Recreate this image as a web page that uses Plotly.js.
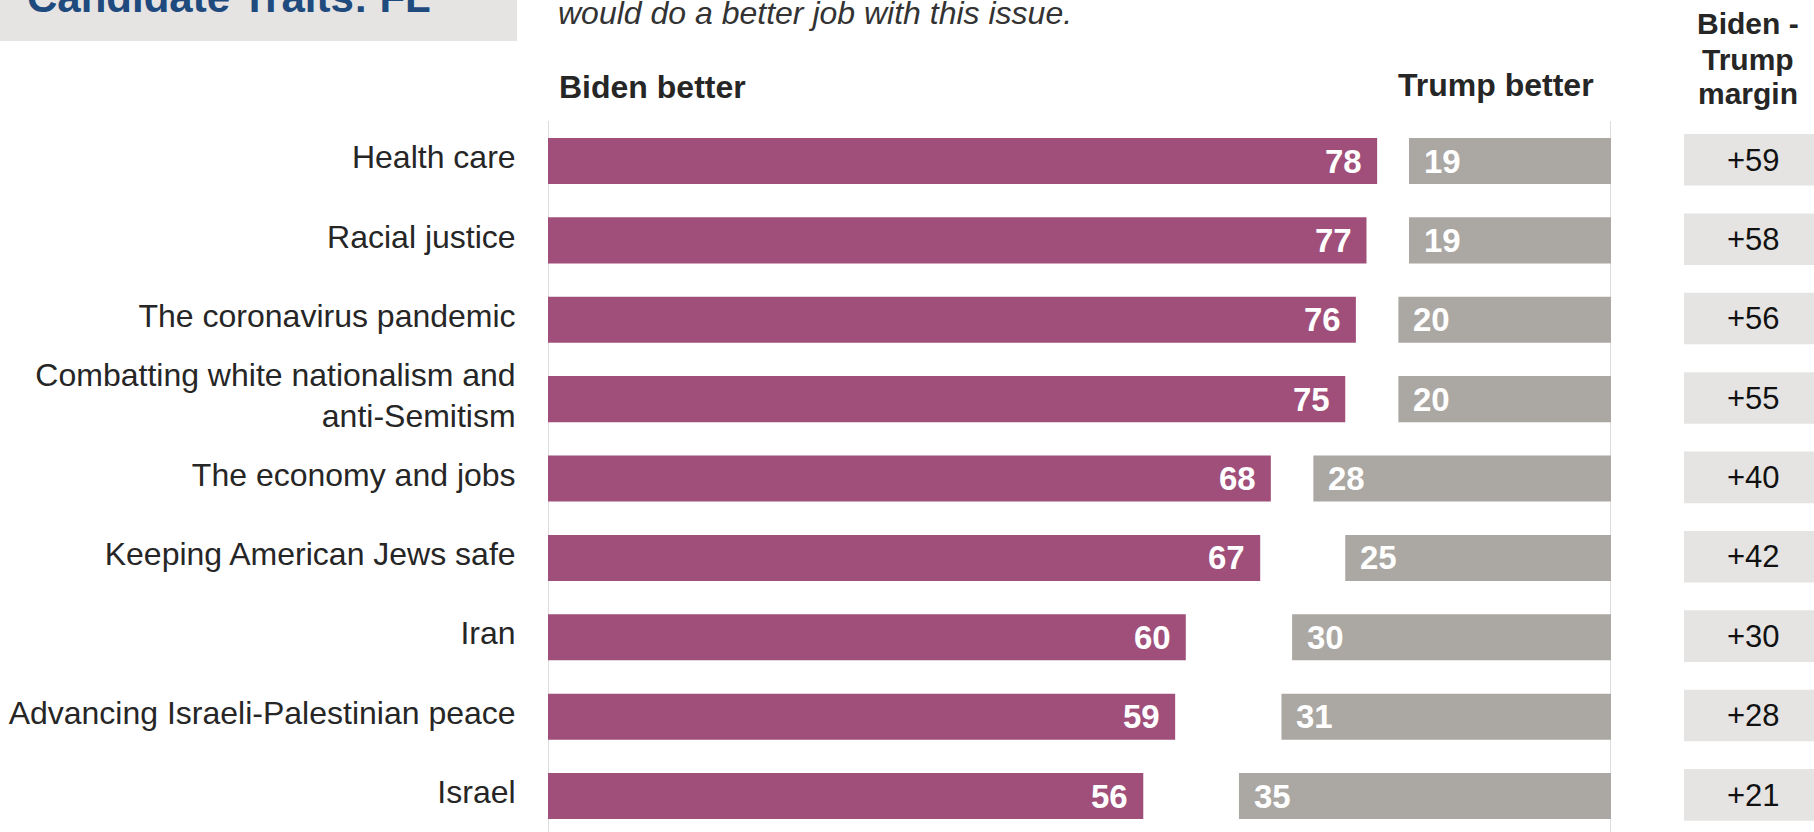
<!DOCTYPE html>
<html>
<head>
<meta charset="utf-8">
<script src="https://cdn.plot.ly/plotly-3.0.1.min.js"></script>
<style>html,body{margin:0;padding:0;background:#fff;}#chart{width:1814px;height:832px;}</style>
</head>
<body>
<div id="chart"></div>
<script>
// ---- data ----
const categories = [
  "Health care",
  "Racial justice",
  "The coronavirus pandemic",
  "Combatting white nationalism and<br>anti-Semitism",
  "The economy and jobs",
  "Keeping American Jews safe",
  "Iran",
  "Advancing Israeli-Palestinian peace",
  "Israel"
];
const bidenBetter = [78, 77, 76, 75, 68, 67, 60, 59, 56];
const trumpBetter = [19, 19, 20, 20, 28, 25, 30, 31, 35];
const marginLabels = ["+59", "+58", "+56", "+55", "+40", "+42", "+30", "+28", "+21"];
const marginHeader = ["Biden -", "Trump", "margin"];

// ---- styling ----
const W = 1814, H = 832;
const FONT = '"Liberation Sans", Arial, sans-serif';
const PURPLE = '#a04f7b';
const GRAY = '#aba7a3';
const BOX = '#e5e4e2';
const TEXT = '#262626';
const px = v => v / W;
const py = v => 1 - v / H;

const domainTop = py(121);
const totalScale = 100; // shared scale: Biden bars grow from 0, Trump bars end at 100

const traces = [
  {
    type: 'bar', orientation: 'h',
    y: categories, x: bidenBetter,
    marker: {color: PURPLE},
    width: 0.58, hoverinfo: 'skip', showlegend: false
  },
  {
    type: 'bar', orientation: 'h',
    y: categories, x: trumpBetter,
    base: trumpBetter.map(t => totalScale - t),
    marker: {color: GRAY},
    width: 0.58, hoverinfo: 'skip', showlegend: false
  }
];

const annotations = [];
const shapes = [];

categories.forEach((c, i) => {
  annotations.push({
    x: bidenBetter[i], y: c, xref: 'x', yref: 'y',
    text: String(bidenBetter[i]), showarrow: false,
    xanchor: 'right', yanchor: 'middle', xshift: -13,
    font: {family: FONT, size: 33, color: '#ffffff', weight: 'bold'}
  });
  annotations.push({
    x: totalScale - trumpBetter[i], y: c, xref: 'x', yref: 'y',
    text: String(trumpBetter[i]), showarrow: false,
    xanchor: 'left', yanchor: 'middle', xshift: 13,
    font: {family: FONT, size: 33, color: '#ffffff', weight: 'bold'}
  });
  annotations.push({
    x: px(1753), y: c, xref: 'paper', yref: 'y',
    text: marginLabels[i], showarrow: false,
    xanchor: 'center', yanchor: 'middle', yshift: 1,
    font: {family: FONT, size: 31, color: '#111111'}
  });
  shapes.push({
    type: 'rect', xref: 'paper', yref: 'y',
    x0: px(1684), x1: 1, y0: i - 0.34, y1: i + 0.31,
    fillcolor: BOX, line: {width: 0}, layer: 'below'
  });
});

// header box + texts
shapes.push({type: 'rect', xref: 'paper', yref: 'paper', x0: 0, x1: px(517), y0: py(41), y1: 1,
  fillcolor: BOX, line: {width: 0}, layer: 'below'});
// vertical rules
shapes.push({type: 'line', xref: 'x', yref: 'paper', x0: 0, x1: 0, y0: 0, y1: domainTop,
  line: {color: '#dddddd', width: 2}, layer: 'below'});
shapes.push({type: 'line', xref: 'x', yref: 'paper', x0: totalScale, x1: totalScale, y0: 0, y1: domainTop,
  line: {color: '#dddddd', width: 2}, layer: 'below'});

annotations.push(
  {x: px(25), y: 1 + 2 / H, xref: 'paper', yref: 'paper', xanchor: 'left', yanchor: 'middle',
   text: 'Candidate Traits: FL', showarrow: false,
   font: {family: FONT, size: 42, color: '#1f4a7e', weight: 'bold'}},
  {x: px(556), y: py(13), xref: 'paper', yref: 'paper', xanchor: 'left', yanchor: 'middle',
   text: '<i>would do a better job with this issue.</i>', showarrow: false,
   font: {family: FONT, size: 32, color: '#333333'}},
  {x: px(557), y: py(86.5), xref: 'paper', yref: 'paper', xanchor: 'left', yanchor: 'middle',
   text: '<b>Biden better</b>', showarrow: false,
   font: {family: FONT, size: 32, color: TEXT}},
  {x: px(1596), y: py(84.5), xref: 'paper', yref: 'paper', xanchor: 'right', yanchor: 'middle',
   text: '<b>Trump better</b>', showarrow: false,
   font: {family: FONT, size: 32, color: TEXT}}
);
const headerY = [23.5, 59, 93.5];
marginHeader.forEach((t, k) => {
  annotations.push({x: px(1748), y: py(headerY[k]), xref: 'paper', yref: 'paper',
    xanchor: 'center', yanchor: 'middle', text: '<b>' + t + '</b>', showarrow: false,
    font: {family: FONT, size: 30, color: TEXT}});
});

const layout = {
  width: W, height: H,
  margin: {l: 0, r: 0, t: 0, b: 0, pad: 0},
  paper_bgcolor: '#ffffff', plot_bgcolor: '#ffffff',
  barmode: 'overlay',
  showlegend: false,
  font: {family: FONT, color: TEXT},
  xaxis: {
    domain: [px(548), px(1611)], range: [0, totalScale],
    showgrid: false, zeroline: false, showline: false, showticklabels: false, ticks: ''
  },
  yaxis: {
    domain: [0, domainTop], type: 'category',
    range: [8.453, -0.504],
    showgrid: false, zeroline: false, showline: false,
    ticks: 'outside', ticklen: 25, tickcolor: 'rgba(0,0,0,0)',
    ticklabelshift: 4,
    tickfont: {family: FONT, size: 32, color: TEXT}
  },
  shapes: shapes,
  annotations: annotations
};

Plotly.newPlot('chart', traces, layout, {displayModeBar: false, staticPlot: true});
</script>
</body>
</html>
